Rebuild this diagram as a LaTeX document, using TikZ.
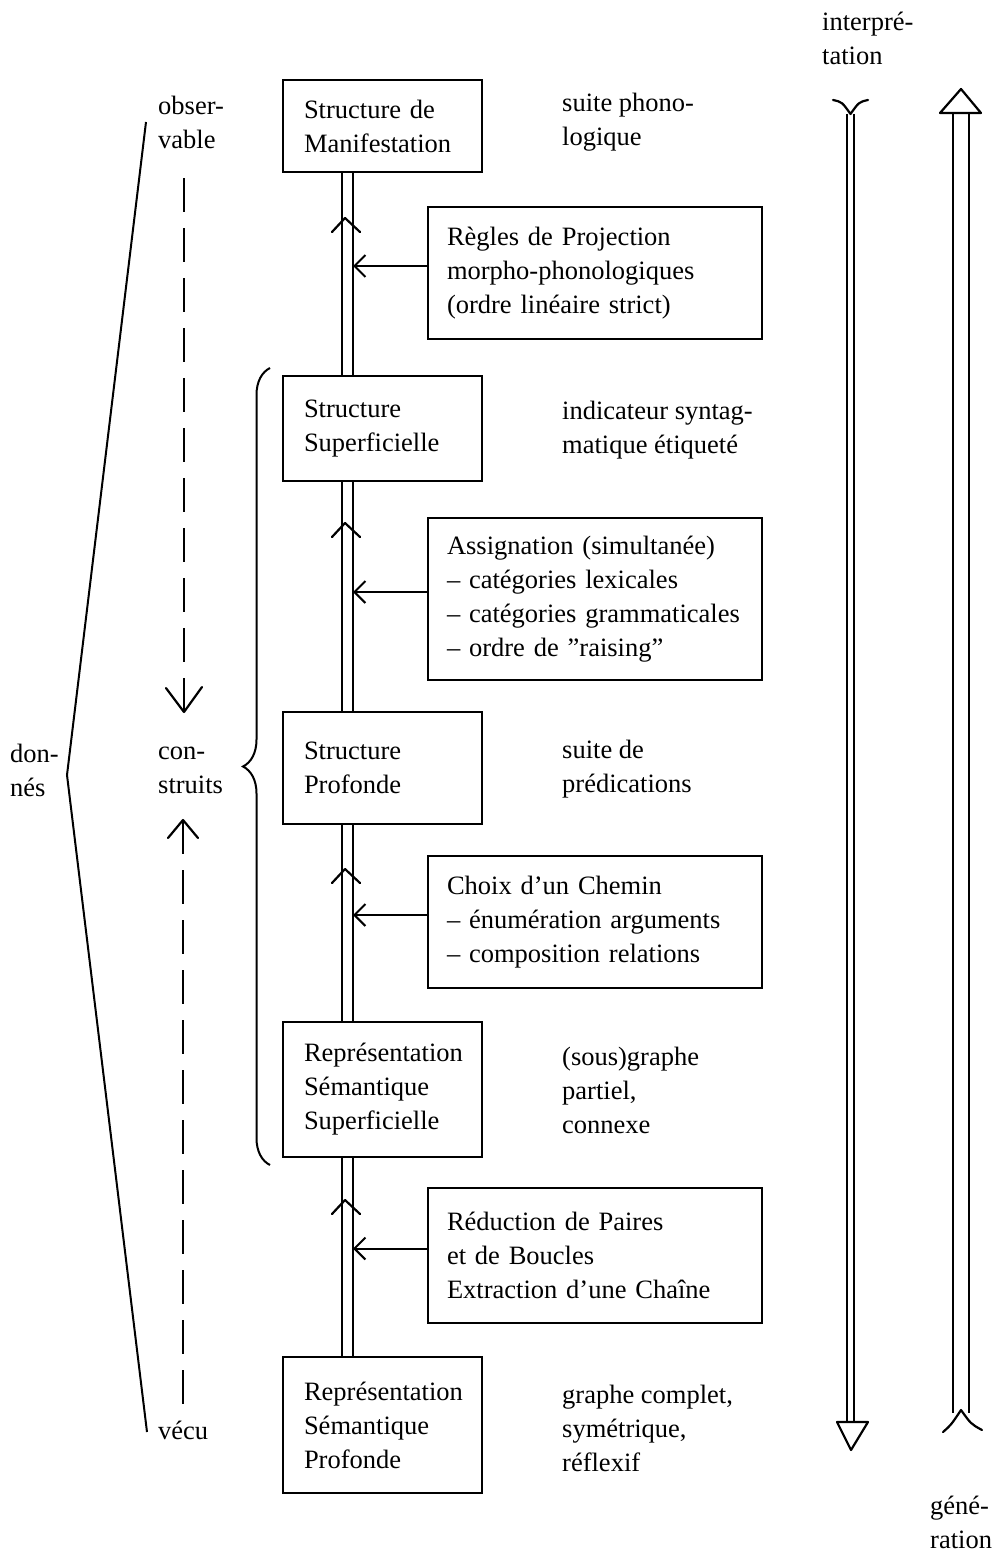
\documentclass[tikz,border=0pt]{standalone}
\usepackage{fontspec}
\setmainfont{Liberation Serif}
\usetikzlibrary{arrows.meta,decorations.pathreplacing,calc}
\begin{document}
\hyphenpenalty=10000
\exhyphenpenalty=10000
\begin{tikzpicture}[x=1pt,y=-1pt,
  every node/.style={font=\fontsize{26.5}{34}\selectfont},
  lbox/.style={draw,line width=2.2pt,fill=white,minimum height=#1,text width=157pt,inner xsep=21pt,inner ysep=0pt,align=left},
  rbox/.style={draw,line width=2.2pt,fill=white,minimum height=#1,text width=296pt,inner xsep=19pt,inner ysep=0pt,align=left},
  lbl/.style={anchor=west,inner sep=0pt,align=left},
  rail/.style={line width=2pt},
  chev/.style={line width=2.2pt,line cap=round,line join=round},
  feed/.style={line width=2pt,-{Straight Barb[length=11pt,width=22pt,line width=2pt]}},
  dashl/.style={line width=2pt,dash pattern=on 34pt off 16pt},
]
\useasboundingbox[fill=white] (0,0) rectangle (1002,1560);

% boxes
\node[lbox=92pt] (b1) at (382.5,126) {Structure de\\Manifestation};
\node[rbox=132pt] (b2) at (595,273) {Règles de Projection\\morpho-phonologiques\\(ordre linéaire strict)};
\node[lbox=105pt] (b3) at (382.5,428.5) {Structure\\Superficielle};
\node[rbox=162pt] (b4) at (595,599) {Assignation (simultanée)\\– catégories lexicales\\– catégories grammaticales\\– ordre de ''raising''};
\node[lbox=112pt] (b5) at (382.5,768) {Structure\\Profonde};
\node[rbox=132pt] (b6) at (595,922) {Choix d'un Chemin\\– énumération arguments\\– composition relations};
\node[lbox=135pt] (b7) at (382.5,1089.5) {Représentation\\Sémantique\\Superficielle};
\node[rbox=135pt] (b8) at (595,1255.5) {Réduction de Paires\\et de Boucles\\Extraction d'une Chaîne};
\node[lbox=136pt] (b9) at (382.5,1425) {Représentation\\Sémantique\\Profonde};

% right descriptions
\node[lbl] (t1) at (562,122) {suite phono-\\logique};
\node[lbl] (t3) at (562,430) {indicateur syntag-\\matique étiqueté};
\node[lbl] (t5) at (562,769) {suite de\\prédications};
\node[lbl] (t7) at (562,1090) {(sous)graphe\\partiel,\\connexe};
\node[lbl] (t9) at (562,1428) {graphe complet,\\symétrique,\\réflexif};

% left labels
\node[lbl] (obs) at (158,122) {obser-\\vable};
\node[lbl] (con) at (158,770) {con-\\struits};
\node[lbl] (don) at (10,770) {don-\\nés};
\node[lbl] (vec) at (158,1430) {vécu};
\node[lbl] (interp) at (822,38) {interpré-\\tation};
\node[lbl] (gen) at (930,1522) {géné-\\ration};

% double rail
\coordinate (dl) at (342,0);
\coordinate (dr) at (353,0);
\foreach \a/\b in {b1/b3,b3/b5,b5/b7,b7/b9}{
  \draw[rail] (\a.south -| dl) -- (\b.north -| dl);
  \draw[rail] (\a.south -| dr) -- (\b.north -| dr);
}
% chevrons on rail
\foreach \y in {218,523,869,1200}{
  \draw[chev] (332,\y+14) -- (345,\y) -- (360,\y+14);
}
% feeding arrows
\foreach \b in {b2,b4,b6,b8}{
  \draw[feed] ($(\b.west)+(0,-7)$) -- ($(\b.west -| dr)+(0,-7)$);
}

% interpretation arrow (downwards)
\coordinate (iT) at (850.5,114);
\coordinate (iB) at (850.5,1422);
\draw[rail] ($(iT)+(-3.5,0)$) -- ($(iB)+(-3.5,0)$);
\draw[rail] ($(iT)+(3.5,0)$) -- ($(iB)+(3.5,0)$);
\draw[chev] (833,100) .. controls (842,102) .. (iT) .. controls (859,102) .. (868,100);
\draw[chev,fill=white] (837,1422) -- (868,1422) -- (851,1450) -- cycle;

% generation arrow (upwards)
\coordinate (gT) at (960.5,113);
\coordinate (gB) at (960.5,1413);
\draw[rail] ($(gT)+(-8,0)$) -- ($(gB)+(-8,0)$);
\draw[rail] ($(gT)+(8,0)$) -- ($(gB)+(8,0)$);
\draw[chev,fill=white] (940,113) -- (981,113) -- (961,89) -- cycle;
\draw[chev] (943,1432) .. controls (951,1425) .. (961,1410) .. controls (971,1424) .. (982,1430);

% dashed arrows on the left
\coordinate (dA) at (184,178);
\coordinate (dB) at (184,712);
\draw[dashl] (dA) -- (dB);
\draw[chev] (166,688) -- (dB) -- (202,687);
\coordinate (uA) at (183,820);
\coordinate (uB) at (183,1408);
\draw[dashl] (uA) -- (uB);
\draw[chev] (168,838) -- (uA) -- (198,838);

% angle for donnes
\draw[line width=2pt,line join=miter] (146,122) -- (67,775) -- (147,1432);

% brace
\draw[line width=2pt,decorate,decoration={brace,amplitude=27pt}] (270,1165) -- (270,368);
\end{tikzpicture}
\end{document}
